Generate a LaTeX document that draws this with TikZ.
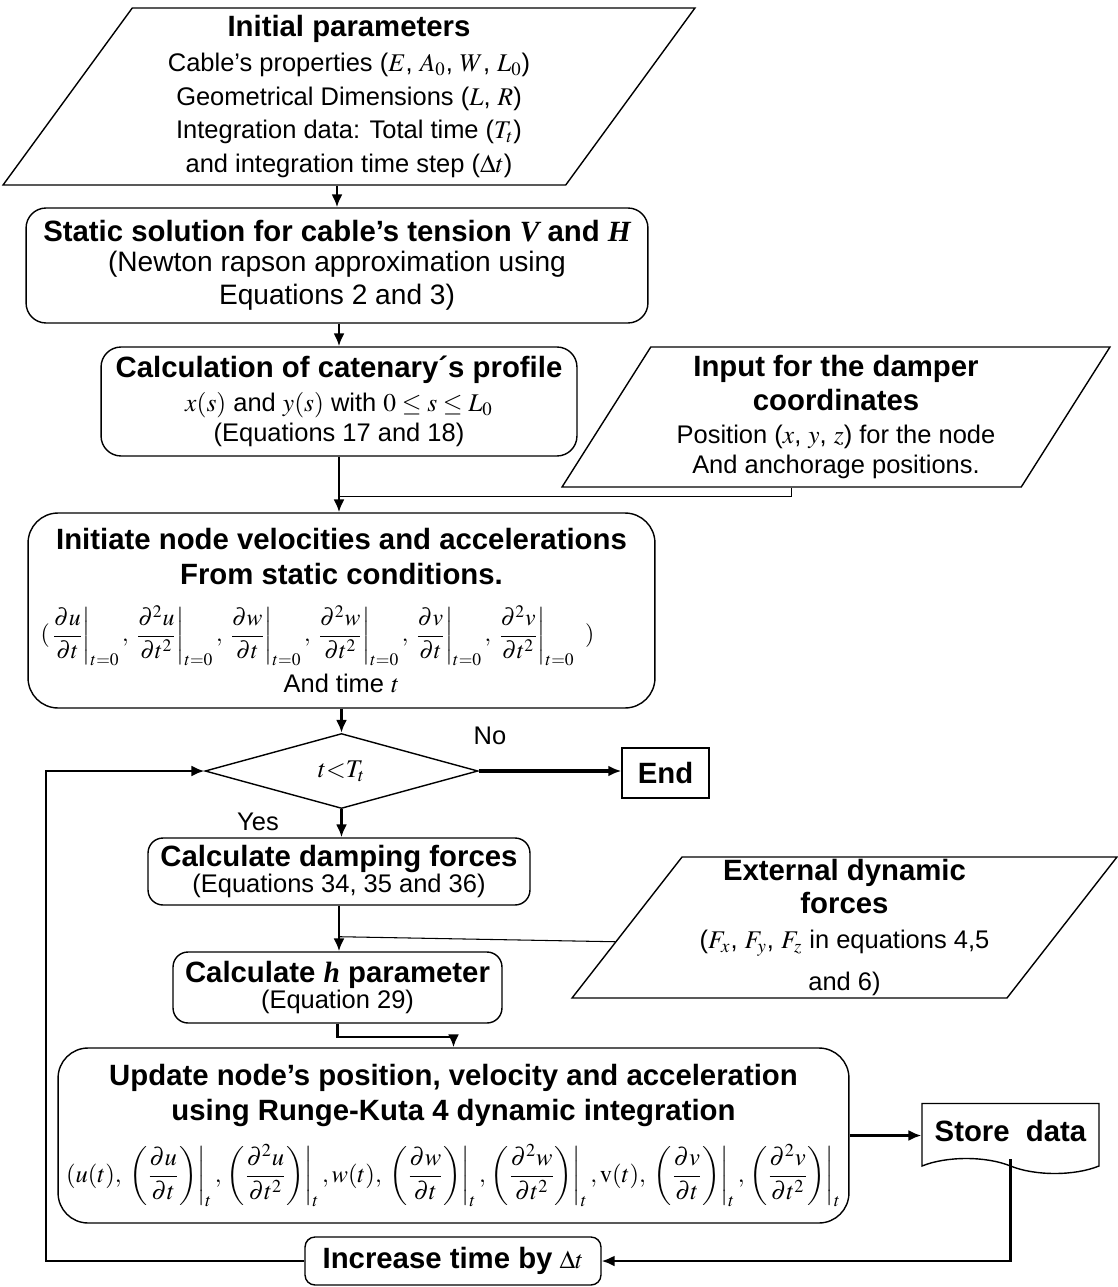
\documentclass[tikz,border=0pt]{standalone}
\usepackage{amsmath}
\usepackage{mathptmx}
\usepackage[no-math]{fontspec}
\setmainfont{Liberation Sans}
\newfontfamily\serifvar{Liberation Serif}
\usetikzlibrary{shapes.geometric,shapes.symbols,arrows.meta,calc}

\newcommand{\ttl}[1]{{\fontsize{16.7}{20}\selectfont\bfseries #1}}
\newcommand{\bvar}[1]{{\serifvar\bfseries\itshape #1}}

\begin{document}
\begin{tikzpicture}[
    x=0.02cm, y=-0.02cm,
    >={Latex[length=2.6mm,width=2.2mm]},
    every node/.style={font=\fontsize{14.5}{19}\selectfont},
    proc/.style={
        draw,
        line width=0.8pt,
        rounded corners=0.4cm,
        align=center,
        inner sep=2pt
    },
    inbox/.style={
        draw,
        line width=0.8pt,
        trapezium,
        trapezium stretches body,
        trapezium left angle=52,
        trapezium right angle=128,
        align=center,
        inner sep=1pt
    },
    flow/.style={
        ->,
        line width=1.3pt
    }
]
    \useasboundingbox (0,0) rectangle (1117,1287);

    % Input and static part
    \node[inbox, minimum width=13.84cm, minimum height=3.54cm] (init) at (349,96.5)
        {\ttl{Initial parameters}\\[1pt]
         Cable’s properties ($E$, $A_0$, $W$, $L_0$)\\
         Geometrical Dimensions ($L$, $R$)\\
         Integration data: Total time ($T_t$)\\
         and integration time step ($\Delta t$)};

    \node[proc, minimum width=12.44cm, minimum height=2.3cm,
        font=\fontsize{16}{19}\selectfont] (static) at (337,265.5)
        {\ttl{Static solution for cable’s tension \bvar{V} and \bvar{H}}\\[-2pt]
         (Newton rapson approximation using\\
         Equations 2 and 3)};

    \node[proc, minimum width=9.52cm, minimum height=2.18cm] (profile) at (339,401.5)
        {\ttl{Calculation of catenary´s profile}\\
         $x(s)$ and $y(s)$ with $0\le s\le L_0$\\[-2pt]
         (Equations 17 and 18)};

    \node[inbox, trapezium left angle=55, trapezium right angle=125,
        minimum width=10.96cm, minimum height=2.8cm] (damper) at (836,417)
        {\ttl{Input for the damper}\\
         \ttl{coordinates}\\
         Position ($x$, $y$, $z$) for the node\\[-2pt]
         And anchorage positions.};

    \node[proc, rounded corners=0.6cm, minimum width=12.54cm, minimum height=3.9cm] (initvel) at (341.5,610.5)
        {\ttl{Initiate node velocities and accelerations}\\[1pt]
         \ttl{From static conditions.}\\[11pt]
         {\fontsize{13.5}{17}\selectfont\hspace*{-0.96cm}%
         $(\left.\dfrac{\partial u}{\partial t}\right|_{t=0},\,
           \left.\dfrac{\partial^2 u}{\partial t^2}\right|_{t=0},\,
           \left.\dfrac{\partial w}{\partial t}\right|_{t=0},\,
           \left.\dfrac{\partial^2 w}{\partial t^2}\right|_{t=0},\,
           \left.\dfrac{\partial v}{\partial t}\right|_{t=0},\,
           \left.\dfrac{\partial^2 v}{\partial t^2}\right|_{t=0}\;\;)$}\\[4pt]
         And time $t$};

    % Time loop
    \node[draw, line width=0.8pt, diamond, minimum width=5.46cm, minimum height=1.5cm, inner sep=0pt] (test) at (341.5,771)
        {$t{<}T_t$};
    \node[draw, line width=0.8pt, minimum width=1.74cm, minimum height=1cm] (stop) at (665.5,773) {\ttl{End}};
    \node (no) at (490,736) {No};
    \node (yes) at (258,822) {Yes};

    \node[proc, rounded corners=0.3cm, minimum width=7.64cm, minimum height=1.34cm] (damping) at (339,871.5)
        {\ttl{Calculate damping forces}\\[-4pt]
         (Equations 34, 35 and 36)};

    \node[inbox, minimum width=10.9cm, minimum height=2.82cm] (extforce) at (844.5,927.5)
        {\ttl{External dynamic}\\
         \ttl{forces}\\[1pt]
         ($F_x$, $F_y$, $F_z$ in equations 4,5\\[5pt]
         and 6)};

    \node[proc, rounded corners=0.3cm, minimum width=6.58cm, minimum height=1.42cm] (hpar) at (337.5,987.5)
        {\ttl{Calculate \bvar{h} parameter}\\[-4pt]
         (Equation 29)};

    \node[proc, rounded corners=0.6cm, minimum width=15.82cm, minimum height=3.5cm] (update) at (453.5,1135.5)
        {\ttl{Update node’s position, velocity and acceleration}\\[1pt]
         \ttl{using Runge-Kuta 4 dynamic integration}\\[9pt]
         {\fontsize{14}{17}\selectfont
         $(u(t),\,
           \left.\left(\dfrac{\partial u}{\partial t}\right)\right|_t,
           \left.\left(\dfrac{\partial^2 u}{\partial t^2}\right)\right|_t,
           w(t),\,
           \left.\left(\dfrac{\partial w}{\partial t}\right)\right|_t,
           \left.\left(\dfrac{\partial^2 w}{\partial t^2}\right)\right|_t,
           \mathrm{v}(t),\,
           \left.\left(\dfrac{\partial v}{\partial t}\right)\right|_t,
           \left.\left(\dfrac{\partial^2 v}{\partial t^2}\right)\right|_t$}};

    \node[draw, line width=0.8pt, tape, tape bend top=none, tape bend bottom=out and in, tape bend height=0.3cm,
        minimum width=3.54cm, minimum height=1.4cm] (store) at (1010.5,1131) {\ttl{Store\ \ data}};

    \node[proc, rounded corners=0.2cm, minimum width=5.92cm, minimum height=0.96cm] (incr) at (453,1261)
        {\ttl{Increase time by} $\Delta t$};

    % Join points
    \coordinate (dampjoin) at ($(profile.south |- initvel.north)+(0,-16)$);
    \coordinate (extjoin) at ($(damping.south)!0.68!(damping.south |- hpar.north)$);
    \coordinate (loopx) at (46,0);

    % Connectors
    \draw[flow] (static.north |- init.south) -- (static.north);
    \draw[flow] (profile.north |- static.south) -- (profile.north);
    \draw[flow] (profile.south) -- (profile.south |- initvel.north);
    \draw[line width=0.8pt] (damper.bottom side) |- (dampjoin);
    \draw[flow] (initvel.south) -- (test.north);
    \draw[flow, line width=2pt] (test.east) -- (test.east -| stop.west);
    \draw[flow] (test.south) -- (test.south |- damping.north);
    \draw[flow] (damping.south) -- (damping.south |- hpar.north);
    \draw[semithick] ($(extforce.bottom left corner)!0.4!(extforce.top left corner)$) -- (extjoin);
    \draw[flow] (hpar.south) -- ++(0,13) -| (update.north);
    \draw[flow] (update.east) -- (update.east -| store.west);
    \draw[flow] (store.south) |- (incr.east);
    \draw[flow] (incr.west) -- (incr.west -| loopx) |- (test.west);

\end{tikzpicture}
\end{document}
